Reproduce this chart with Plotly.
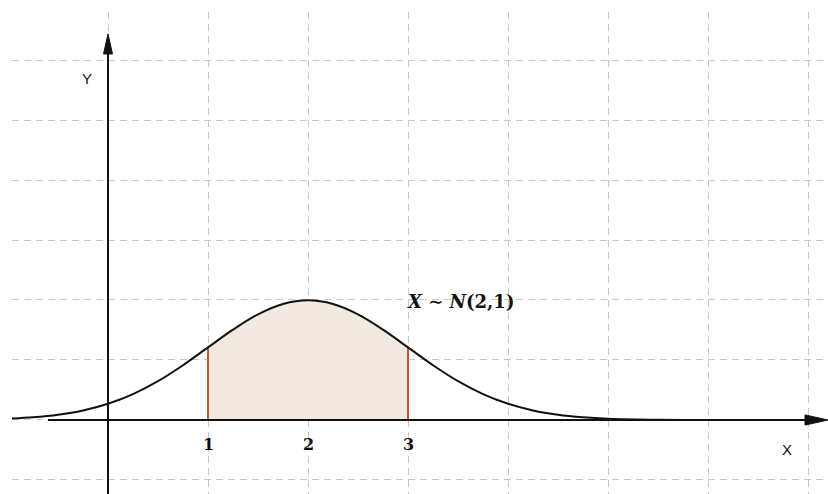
import plotly.graph_objects as go

# density of X ~ N(2,1)
xs = [-0.96, -0.75, -0.5, -0.25, 0, 0.25, 0.5, 0.75, 1, 1.25, 1.5, 1.75, 2,
      2.25, 2.5, 2.75, 3, 3.25, 3.5, 3.75, 4, 4.25, 4.5, 4.75, 5, 5.5, 6, 6.5, 7]
ys = [0.0050, 0.0091, 0.0175, 0.0317, 0.0540, 0.0863, 0.1295, 0.1826, 0.2420,
      0.3011, 0.3521, 0.3867, 0.3989, 0.3867, 0.3521, 0.3011, 0.2420, 0.1826,
      0.1295, 0.0863, 0.0540, 0.0317, 0.0175, 0.0091, 0.0044, 0.0009, 0.0001,
      0.0, 0.0]

area_lo, area_hi = 1, 3
tick_vals = [1, 2, 3]
tick_text = ["1", "2", "3"]
grid_x = [0, 1, 2, 3, 4, 5, 6, 7]
grid_y = [-0.2, 0, 0.2, 0.4, 0.6, 0.8, 1.0, 1.2]
label = "<b><i>X</i> ∼ <i>N</i>(2,1)</b>"

shade_x = [x for x in xs if area_lo <= x <= area_hi]
shade_y = [y for x, y in zip(xs, ys) if area_lo <= x <= area_hi]

fig = go.Figure()

# shaded probability area
fig.add_trace(go.Scatter(x=shade_x, y=shade_y, mode="lines", fill="tozeroy",
                         fillcolor="rgb(242,233,225)", line=dict(width=0),
                         line_shape="spline", hoverinfo="skip"))
# bounds of the area
for xv, yv in [(shade_x[0], shade_y[0]), (shade_x[-1], shade_y[-1])]:
    fig.add_trace(go.Scatter(x=[xv, xv], y=[0, yv], mode="lines",
                             line=dict(color="rgb(190,88,55)", width=2)))
fig.add_trace(go.Scatter(x=[area_lo, area_hi], y=[0, 0], mode="lines",
                         line=dict(color="#3b2a22", width=2)))
# the density curve
fig.add_trace(go.Scatter(x=xs, y=ys, mode="lines", line_shape="spline",
                         line=dict(color="#111111", width=2)))

# axes drawn as arrows (lines + narrow triangular heads)
ax_col = "#111111"
x_start, x_tip, x_base, x_hw = -0.6, 7.2, 6.97, 0.017
y_start, y_tip, y_base, y_hw = -0.25, 1.287, 1.22, 0.045
fig.add_shape(type="line", x0=x_start, x1=x_base, y0=0, y1=0,
              line=dict(color=ax_col, width=2))
fig.add_shape(type="path", fillcolor=ax_col, line=dict(color=ax_col, width=1),
              path=f"M {x_base},{-x_hw} L {x_tip},0 L {x_base},{x_hw} Z")
fig.add_shape(type="line", x0=0, x1=0, y0=y_start, y1=y_base,
              line=dict(color=ax_col, width=2))
fig.add_shape(type="path", fillcolor=ax_col, line=dict(color=ax_col, width=1),
              path=f"M {-y_hw},{y_base} L 0,{y_tip} L {y_hw},{y_base} Z")

fig.add_annotation(x=-0.21, y=1.14, text="Y", showarrow=False,
                   font=dict(family="Liberation Sans", size=15, color="#111111"))
fig.add_annotation(x=6.79, y=-0.097, text="X", showarrow=False,
                   font=dict(family="Liberation Sans", size=15, color="#111111"))

for tv, tt in zip(tick_vals, tick_text):
    fig.add_annotation(x=tv, y=0, yshift=-25, text="<b>" + tt + "</b>",
                       showarrow=False,
                       font=dict(family="DejaVu Serif", size=16, color="#111111"))

fig.add_annotation(x=3.52, y=0.394, text=label, showarrow=False,
                   font=dict(family="DejaVu Serif", size=18, color="#111111"))

grid = dict(showgrid=True, gridcolor="#c8c8c8", gridwidth=1,
            griddash="7px,5px", zeroline=False, showline=False,
            showticklabels=False, ticks="")
fig.update_xaxes(range=[-0.96, 7.2], tickvals=grid_x, **grid)
fig.update_yaxes(range=[-0.2467, 1.36], tickvals=grid_y, **grid)

fig.update_layout(width=828, height=494, showlegend=False,
                  margin=dict(l=12, r=0, t=12, b=0),
                  paper_bgcolor="white", plot_bgcolor="white")

fig.write_html("out.html", config={"displayModeBar": False},
               post_script="document.body.style.margin='0';")
